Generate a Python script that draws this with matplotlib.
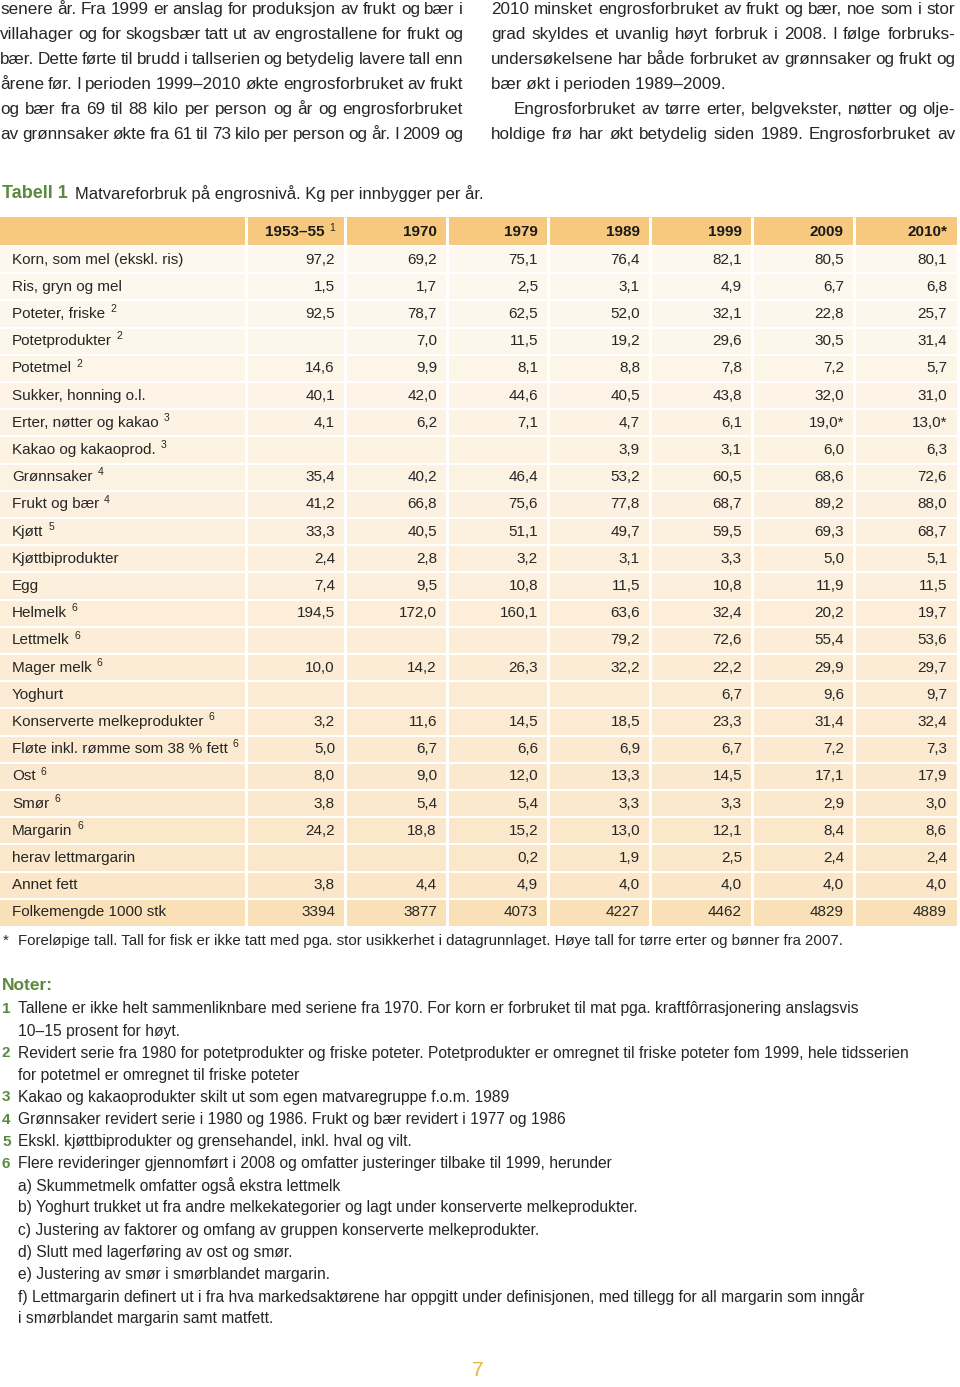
import numpy as np
import matplotlib
matplotlib.use('Agg')
import matplotlib.pyplot as plt
from matplotlib.patches import Rectangle

# ---- data ----------------------------------------------------------------
years = ['1953–55', '1970', '1979', '1989', '1999', '2009', '2010*']
year_notes = ['1', '', '', '', '', '', '']

labels = ['Korn, som mel (ekskl. ris)', 'Ris, gryn og mel', 'Poteter, friske',
          'Potetprodukter', 'Potetmel', 'Sukker, honning o.l.',
          'Erter, nøtter og kakao', 'Kakao og kakaoprod.', 'Grønnsaker',
          'Frukt og bær', 'Kjøtt', 'Kjøttbiprodukter', 'Egg', 'Helmelk',
          'Lettmelk', 'Mager melk', 'Yoghurt', 'Konserverte melkeprodukter',
          'Fløte inkl. rømme som 38 % fett', 'Ost', 'Smør', 'Margarin',
          'herav lettmargarin', 'Annet fett', 'Folkemengde 1000 stk']
label_notes = ['', '', '2', '2', '2', '', '3', '3', '4', '4', '5', '', '',
               '6', '6', '6', '', '6', '6', '6', '6', '6', '', '', '']

v1953 = ['97,2', '1,5', '92,5', '', '14,6', '40,1', '4,1', '', '35,4', '41,2',
         '33,3', '2,4', '7,4', '194,5', '', '10,0', '', '3,2', '5,0', '8,0',
         '3,8', '24,2', '', '3,8', '3394']
v1970 = ['69,2', '1,7', '78,7', '7,0', '9,9', '42,0', '6,2', '', '40,2', '66,8',
         '40,5', '2,8', '9,5', '172,0', '', '14,2', '', '11,6', '6,7', '9,0',
         '5,4', '18,8', '', '4,4', '3877']
v1979 = ['75,1', '2,5', '62,5', '11,5', '8,1', '44,6', '7,1', '', '46,4', '75,6',
         '51,1', '3,2', '10,8', '160,1', '', '26,3', '', '14,5', '6,6', '12,0',
         '5,4', '15,2', '0,2', '4,9', '4073']
v1989 = ['76,4', '3,1', '52,0', '19,2', '8,8', '40,5', '4,7', '3,9', '53,2', '77,8',
         '49,7', '3,1', '11,5', '63,6', '79,2', '32,2', '', '18,5', '6,9', '13,3',
         '3,3', '13,0', '1,9', '4,0', '4227']
v1999 = ['82,1', '4,9', '32,1', '29,6', '7,8', '43,8', '6,1', '3,1', '60,5', '68,7',
         '59,5', '3,3', '10,8', '32,4', '72,6', '22,2', '6,7', '23,3', '6,7', '14,5',
         '3,3', '12,1', '2,5', '4,0', '4462']
v2009 = ['80,5', '6,7', '22,8', '30,5', '7,2', '32,0', '19,0*', '6,0', '68,6', '89,2',
         '69,3', '5,0', '11,9', '20,2', '55,4', '29,9', '9,6', '31,4', '7,2', '17,1',
         '2,9', '8,4', '2,4', '4,0', '4829']
v2010 = ['80,1', '6,8', '25,7', '31,4', '5,7', '31,0', '13,0*', '6,3', '72,6', '88,0',
         '68,7', '5,1', '11,5', '19,7', '53,6', '29,7', '9,7', '32,4', '7,3', '17,9',
         '3,0', '8,6', '2,4', '4,0', '4889']
columns = [v1953, v1970, v1979, v1989, v1999, v2009, v2010]

left_par = ['senere år. Fra 1999 er anslag for produksjon av frukt og bær i',
            'villahager og for skogsbær tatt ut av engrostallene for frukt og',
            'bær. Dette førte til brudd i tallserien og betydelig lavere tall enn',
            'årene før. I perioden 1999–2010 økte engrosforbruket av frukt',
            'og bær fra 69 til 88 kilo per person og år og engrosforbruket',
            'av grønnsaker økte fra 61 til 73 kilo per person og år. I 2009 og']
right_par = ['2010 minsket engrosforbruket av frukt og bær, noe som i stor',
             'grad skyldes et uvanlig høyt forbruk i 2008. I følge forbruks-',
             'undersøkelsene har både forbruket av grønnsaker og frukt og',
             'bær økt i perioden 1989–2009.',
             'Engrosforbruket av tørre erter, belgvekster, nøtter og olje-',
             'holdige frø har økt betydelig siden 1989. Engrosforbruket av']
# which lines are justified / indented
right_just = [True, True, True, False, True, True]
right_indent = [0, 0, 0, 0, 23, 0]

star_note = 'Foreløpige tall. Tall for fisk er ikke tatt med pga. stor usikkerhet i datagrunnlaget. Høye tall for tørre erter og bønner fra 2007.'

note_nums = ['1', '', '2', '', '3', '4', '5', '6', '', '', '', '', '', '', '']
note_lines = [
    'Tallene er ikke helt sammenliknbare med seriene fra 1970. For korn er forbruket til mat pga. kraftfôrrasjonering anslagsvis',
    '10–15 prosent for høyt.',
    'Revidert serie fra 1980 for potetprodukter og friske poteter. Potetprodukter er omregnet til friske poteter fom 1999, hele tidsserien',
    'for potetmel er omregnet til friske poteter',
    'Kakao og kakaoprodukter skilt ut som egen matvaregruppe f.o.m. 1989',
    'Grønnsaker revidert serie i 1980 og 1986. Frukt og bær revidert i 1977 og 1986',
    'Ekskl. kjøttbiprodukter og grensehandel, inkl. hval og vilt.',
    'Flere revideringer gjennomført i 2008 og omfatter justeringer tilbake til 1999, herunder',
    'a) Skummetmelk omfatter også ekstra lettmelk',
    'b) Yoghurt trukket ut fra andre melkekategorier og lagt under konserverte melkeprodukter.',
    'c) Justering av faktorer og omfang av gruppen konserverte melkeprodukter.',
    'd) Slutt med lagerføring av ost og smør.',
    'e) Justering av smør i smørblandet margarin.',
    'f) Lettmargarin definert ut i fra hva markedsaktørene har oppgitt under definisjonen, med tillegg for all margarin som inngår',
    'i smørblandet margarin samt matfett.']

# ---- style ---------------------------------------------------------------
plt.rcParams['font.family'] = ['Liberation Sans', 'DejaVu Sans']
TXT = '#262626'
GREEN = '#5a8a3c'
HEAD = '#f7c97e'
TOP_ROW = np.array([253, 248, 239]) / 255
BOT_ROW = np.array([251, 230, 200]) / 255
LAST_ROW = '#f9e0b6'

fig = plt.figure(figsize=(9.6, 13.87), dpi=100)
ax = fig.add_axes([0, 0, 1, 1])
ax.set_xlim(0, 960)
ax.set_ylim(1387, 0)
ax.axis('off')
renderer = fig.canvas.get_renderer()


def justified(x0, x1, y, text, size):
    words = text.split(' ')
    arts = [ax.text(0, y, w, fontsize=size, color=TXT, va='baseline', ha='left') for w in words]
    widths = [a.get_window_extent(renderer).width for a in arts]
    gap = (x1 - x0 - sum(widths)) / max(len(words) - 1, 1)
    x = x0
    for a, w in zip(arts, widths):
        a.set_x(x)
        x += w + gap


# ---- body text on top ----------------------------------------------------
BODY = 12.3
for i, line in enumerate(left_par):
    justified(0, 463, 14 + 25 * i, line, BODY)
for i, line in enumerate(right_par):
    x0 = 491 + right_indent[i]
    if right_just[i]:
        justified(x0, 955, 14 + 25 * i, line, BODY)
    else:
        ax.text(x0, 14 + 25 * i, line, fontsize=BODY, color=TXT, va='baseline')

# ---- table title ---------------------------------------------------------
ax.text(2, 194, 'Tabell 1', fontsize=13, color=GREEN, fontweight='bold', va='center')
ax.text(75, 194, 'Matvareforbruk på engrosnivå. Kg per innbygger per år.',
        fontsize=11.85, color=TXT, va='center')

# ---- table ---------------------------------------------------------------
col_edges = [0, 246, 345, 447, 548, 650, 752, 854, 957]
head_top, head_bot = 217, 245
row_h = 27.2
n = len(labels)
TSIZE = 11.0

ax.add_patch(Rectangle((0, head_top), 957, head_bot - head_top, color=HEAD, lw=0))
for i in range(n):
    top = head_bot + 1 + i * row_h
    if i == n - 1:
        c = LAST_ROW
    else:
        f = i / (n - 2)
        c = TOP_ROW * (1 - f) + BOT_ROW * f
    ax.add_patch(Rectangle((0, top), 957, row_h, color=c, lw=0))

# white grid
for i in range(n):
    y = head_bot + 1 + i * row_h
    ax.plot([0, 957], [y, y], color='white', lw=1.5, solid_capstyle='butt')
for x in col_edges[1:-1]:
    ax.plot([x, x], [head_top, head_bot + 1 + n * row_h], color='white', lw=2.2,
            solid_capstyle='butt')

# header
for j, yr in enumerate(years):
    xr = col_edges[j + 2] - 10
    if year_notes[j]:
        ax.text(xr, 228, year_notes[j], fontsize=7.5, color=TXT, ha='right', va='center')
        xr -= 10
    ax.text(xr, 232, yr, fontsize=TSIZE, color='#1a1a1a', fontweight='bold',
            ha='right', va='center')

# body rows
for i, lab in enumerate(labels):
    yc = head_bot + 1 + i * row_h + row_h / 2
    lt = ax.text(12, yc, lab, fontsize=TSIZE, color=TXT, va='center')
    if label_notes[i]:
        ax.annotate(label_notes[i], xy=(1, 1), xycoords=lt, xytext=(3.5, 2),
                    textcoords='offset points', fontsize=7.5, color=TXT,
                    ha='left', va='top')
    for j, col in enumerate(columns):
        if col[i]:
            ax.text(col_edges[j + 2] - 10, yc, col[i], fontsize=TSIZE, color=TXT,
                    ha='right', va='center')

# ---- footnotes -----------------------------------------------------------
ax.text(3, 941, '*', fontsize=10.8, color=TXT, va='center')
ax.text(18, 941, star_note, fontsize=10.8, color=TXT, va='center')

ax.text(2, 986, 'Noter:', fontsize=12.5, color=GREEN, fontweight='bold', va='center')
for i, line in enumerate(note_lines):
    y = 1009 + 22.1 * i
    if note_nums[i]:
        ax.text(2, y, note_nums[i], fontsize=11, color=GREEN, fontweight='bold', va='center')
    ax.text(18, y, line, fontsize=11.25, color=TXT, va='center')

ax.text(478, 1371, '7', fontsize=15, color='#e8b43a', ha='center', va='center')

fig.savefig('out.png', dpi=100)
